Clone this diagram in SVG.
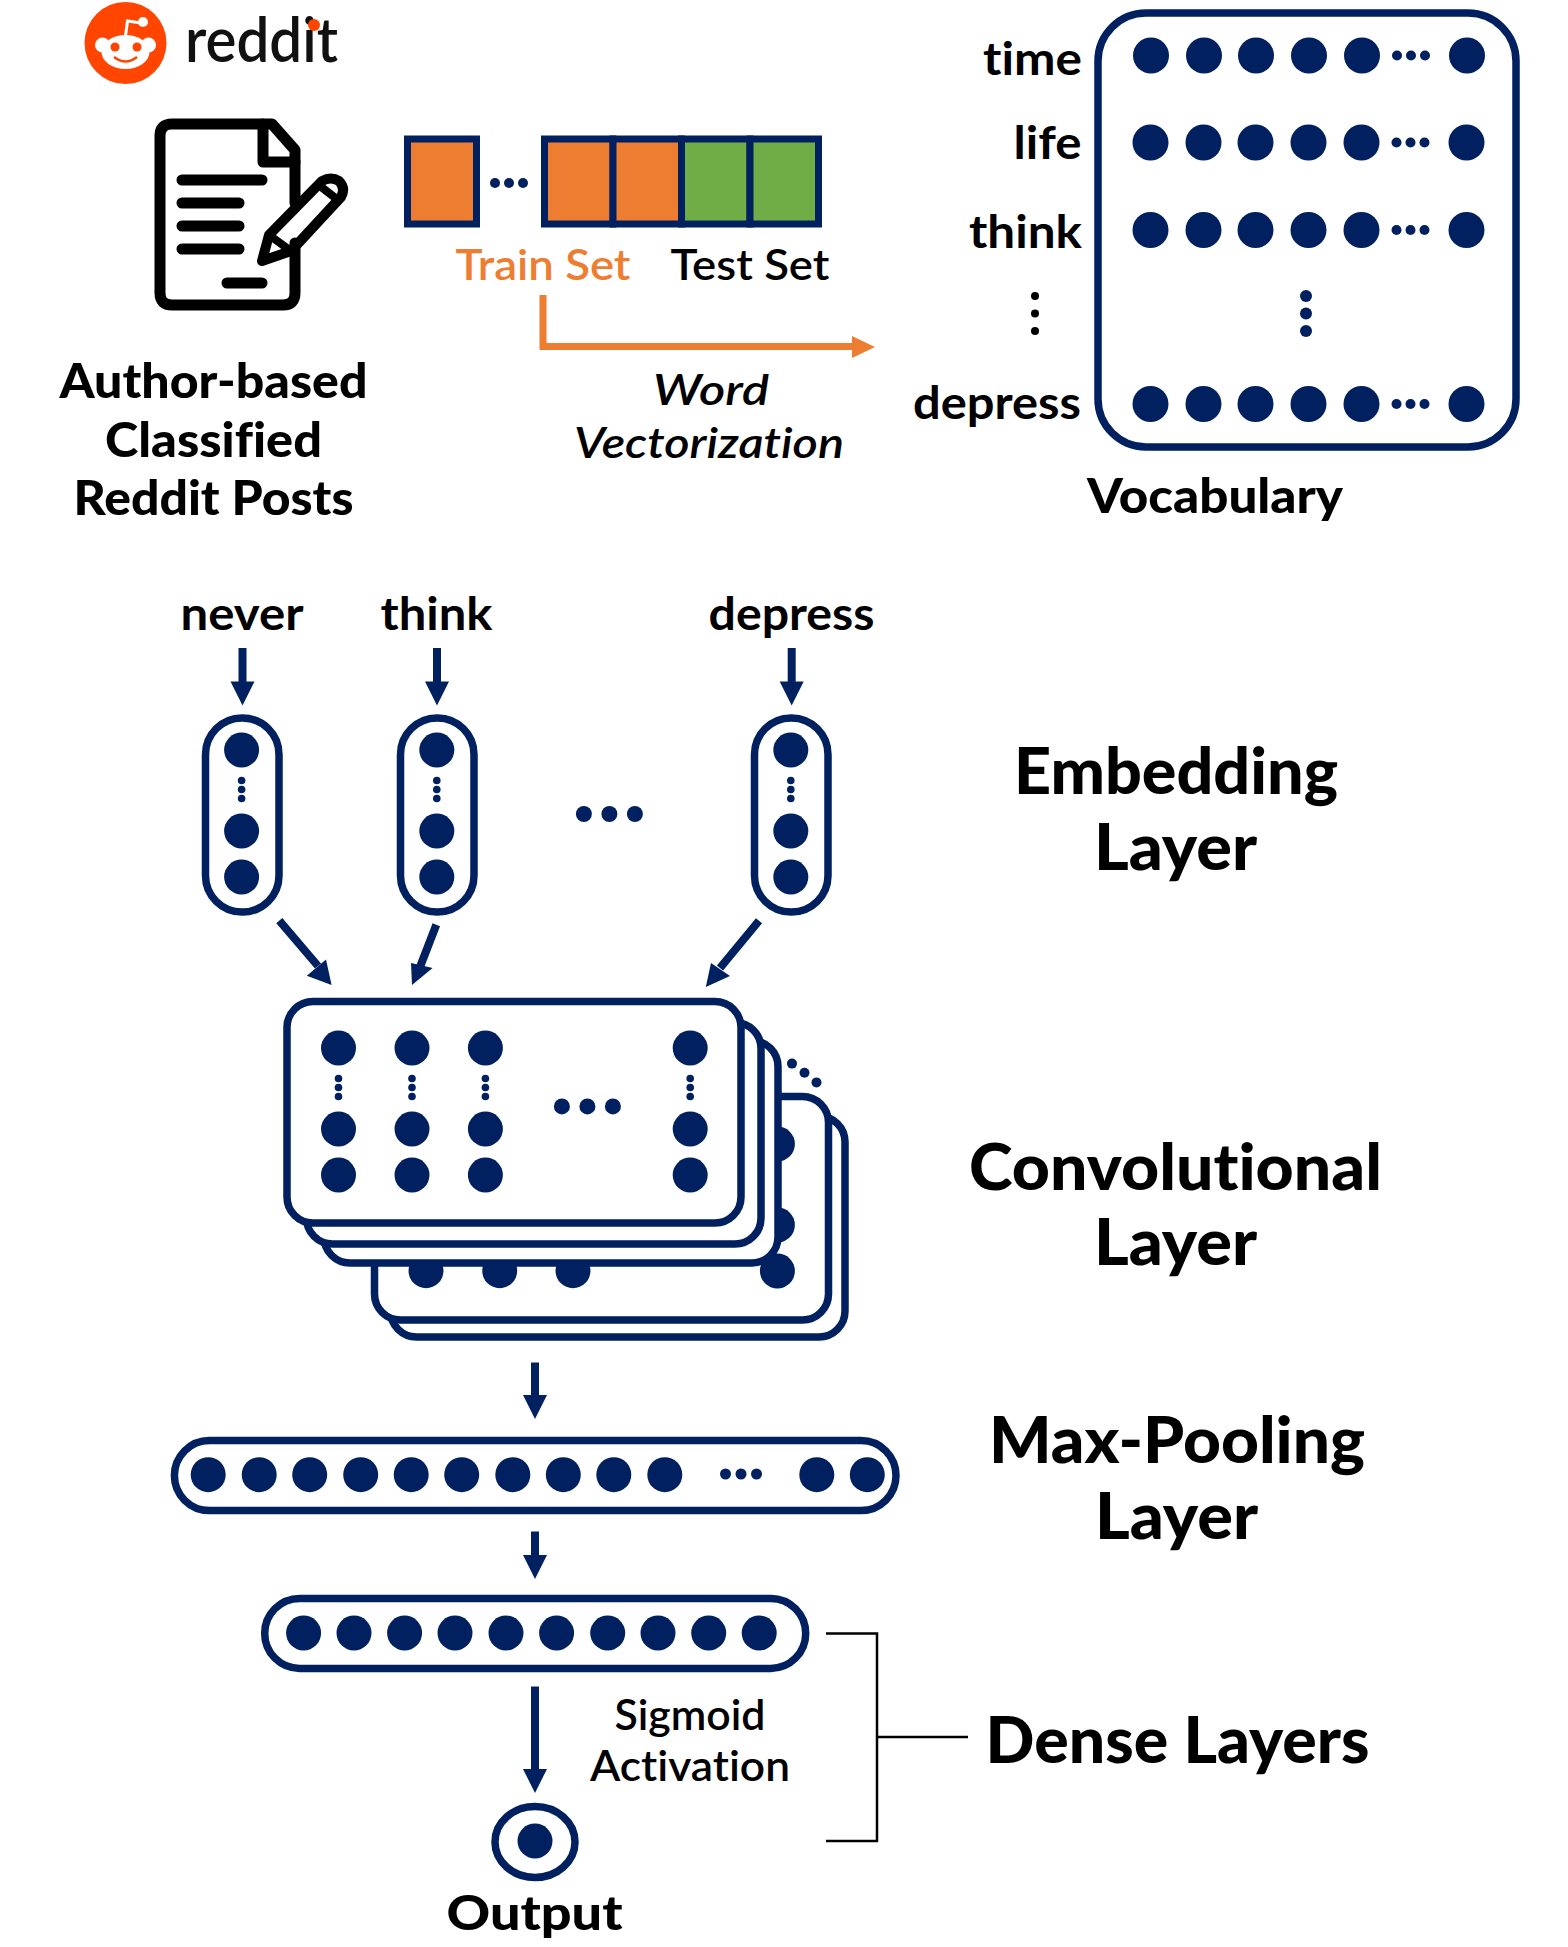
<svg xmlns="http://www.w3.org/2000/svg" width="1568" height="1947" viewBox="0 0 1568 1947">
<style>
text{font-family:Lato,"Liberation Sans",sans-serif;fill:#000;font-variant-ligatures:none}
.b{font-weight:900;text-anchor:middle;font-size:47px}
.t{font-weight:700;font-size:46px}
.m{text-anchor:middle}
.e{text-anchor:end}
.h{font-weight:900;text-anchor:middle;font-size:64px}
.s{font-weight:600;text-anchor:middle;font-size:43px}
.i{font-style:italic;font-weight:600;text-anchor:middle;font-size:43px}
.n{fill:#002060}
.box{fill:#fff;stroke:#002060;stroke-width:7.5}
.cell{stroke:#002060;stroke-width:7}
.k{fill:none;stroke:#000;stroke-linecap:round;stroke-linejoin:round}
.ln{stroke:#002060;stroke-width:8;fill:none}
</style>
<defs>
<g id="ell"><circle cx="-14" r="5"/><circle r="5"/><circle cx="14" r="5"/></g>
<g id="vell"><circle cy="-9" r="3.800"/><circle r="3.800"/><circle cy="9" r="3.800"/></g>
<g id="col"><circle cy="0" r="17.500"/><circle cy="81" r="17.500"/><circle cy="127" r="17.500"/><use href="#vell" y="39.500"/></g>
<g id="midell"><circle cx="-25.500" r="8"/><circle r="8"/><circle cx="25.500" r="8"/></g>
<g id="row"><circle cx="1151" r="18"/><circle cx="1204" r="18"/><circle cx="1256" r="18"/><circle cx="1309" r="18"/><circle cx="1362" r="18"/><use href="#ell" x="1411"/><circle cx="1467" r="18"/></g>
<polygon id="hd" points="0,0 -12,-24 12,-24"/>
</defs>
<g id="reddit-logo">
<circle cx="125.500" cy="43" r="41" fill="#ff4500"/>
<path d="M125.500 36 L127.500 21 L141 23" fill="none" stroke="#fff" stroke-width="3"/>
<circle cx="143" cy="22" r="5" fill="#fff"/>
<circle cx="102.500" cy="45" r="7.500" fill="#fff"/><circle cx="148.500" cy="45" r="7.500" fill="#fff"/>
<ellipse cx="125.500" cy="52" rx="24" ry="17" fill="#fff"/>
<circle cx="115" cy="47" r="4.500" fill="#ff4500"/><circle cx="137" cy="47" r="4.500" fill="#ff4500"/>
<path d="M114 57 Q125.500 66 137 57" fill="none" stroke="#ff4500" stroke-width="2.500"/>
<text x="185" y="62" font-size="61" textLength="153" lengthAdjust="spacingAndGlyphs" style="font-weight:600;fill:#111">reddit</text>
<circle cx="314" cy="25" r="6" fill="#ff4500"/>
</g>
<g id="document-icon">
<path class="k" stroke-width="11" d="M295 203V150L272 124H172Q160 124 160 136V293Q160 305 172 305H283Q295 305 295 293V243"/>
<path class="k" stroke-width="11" d="M263 124V162H295"/>
<path class="k" stroke-width="11" d="M182 180H262M182 203H239M182 226H239M182 249H239M227 283H262"/>
<path class="k" fill="#fff" stroke-width="10" d="M262 261L269 235L322 181Q331 176 339 181Q346 188 341 197L291 251Z"/>
<path class="k" stroke-width="8" d="M269 235L291 251M320 186L338 200"/>
</g>
<g id="data-blocks">
<rect class="cell" x="407.500" y="139" width="69" height="85" fill="#ed7d31"/>
<use href="#ell" x="509" y="183" class="n"/>
<rect class="cell" x="544.500" y="139" width="68.500" height="85" fill="#ed7d31"/>
<rect class="cell" x="613" y="139" width="68.500" height="85" fill="#ed7d31"/>
<rect class="cell" x="681.500" y="139" width="68.500" height="85" fill="#70ad47"/>
<rect class="cell" x="750" y="139" width="68.500" height="85" fill="#70ad47"/>
<text x="543" y="280" class="s" textLength="175" lengthAdjust="spacingAndGlyphs" style="fill:#ed7d31">Train Set</text>
<text x="750" y="280" class="s" textLength="159" lengthAdjust="spacingAndGlyphs">Test Set</text>
</g>
<g id="author-label">
<text x="213.500" y="398" class="b" textLength="308" lengthAdjust="spacingAndGlyphs">Author-based</text>
<text x="213.500" y="457" class="b" textLength="217" lengthAdjust="spacingAndGlyphs">Classified</text>
<text x="213.500" y="515" class="b" textLength="280" lengthAdjust="spacingAndGlyphs">Reddit Posts</text>
</g>
<g id="word-vectorization">
<text x="711" y="405" class="i" textLength="116" lengthAdjust="spacingAndGlyphs">Word</text>
<text x="709" y="458" class="i" textLength="270" lengthAdjust="spacingAndGlyphs">Vectorization</text>
</g>
<g id="vocabulary">
<rect class="box" x="1098" y="13" width="418" height="434" rx="48"/>
<g class="n"><use href="#row" y="55.500"/><use href="#row" x="-0.500" y="142.500"/><use href="#row" x="-0.500" y="230"/><use href="#row" x="-0.500" y="404"/>
<circle cx="1306" cy="296" r="6"/><circle cx="1306" cy="313.500" r="6"/><circle cx="1306" cy="331" r="6"/></g>
<circle cx="1035" cy="296" r="4"/><circle cx="1035" cy="313.500" r="4"/><circle cx="1035" cy="331" r="4"/>
<text x="1082" y="75" class="t e" textLength="99" lengthAdjust="spacingAndGlyphs">time</text>
<text x="1081.500" y="158.500" class="t e" textLength="68" lengthAdjust="spacingAndGlyphs">life</text>
<text x="1082" y="247.500" class="t e" textLength="113" lengthAdjust="spacingAndGlyphs">think</text>
<text x="1081" y="419" class="t e" textLength="168" lengthAdjust="spacingAndGlyphs">depress</text>
<text x="1215" y="513" class="b" textLength="256" lengthAdjust="spacingAndGlyphs">Vocabulary</text>
</g>
<g id="embedding">
<text x="242" y="630" class="t m" textLength="123" lengthAdjust="spacingAndGlyphs">never</text>
<text x="436.500" y="630" class="t m" textLength="112" lengthAdjust="spacingAndGlyphs">think</text>
<text x="791.500" y="630" class="t m" textLength="166" lengthAdjust="spacingAndGlyphs">depress</text>
<rect class="box" x="205.500" y="718" width="73.500" height="194" rx="36.500"/>
<rect class="box" x="400.500" y="718" width="73.500" height="194" rx="36.500"/>
<rect class="box" x="754.500" y="718" width="73.500" height="194" rx="36.500"/>
<g class="n"><use href="#col" x="241.600" y="750"/><use href="#col" x="436.800" y="750"/><use href="#col" x="790.800" y="750"/><use href="#midell" x="609.400" y="814"/></g>
</g>
<g id="convolutional">
<rect class="box" x="390.500" y="1116" width="454.500" height="221" rx="26"/>
<rect class="box" x="374.500" y="1096.500" width="454" height="223.500" rx="26"/>
<g class="n"><circle cx="426" cy="1270.700" r="17.500"/><circle cx="499.700" cy="1270.700" r="17.500"/><circle cx="573" cy="1270.700" r="17.500"/><use href="#col" x="777.400" y="1144"/></g>
<rect class="box" x="324" y="1040.500" width="454" height="222.500" rx="26"/>
<rect class="box" x="306.500" y="1022.500" width="454.500" height="221.500" rx="26"/>
<rect class="box" x="287" y="1001.500" width="454" height="221.500" rx="26"/>
<g class="n"><use href="#col" x="338.500" y="1048"/><use href="#col" x="412" y="1048"/><use href="#col" x="485.400" y="1048"/><use href="#col" x="690.200" y="1048"/><use href="#midell" x="587.400" y="1106.400"/>
<circle cx="792" cy="1063.600" r="5"/><circle cx="804.500" cy="1072.800" r="5"/><circle cx="816.500" cy="1082.400" r="5"/></g>
</g>
<g id="max-pooling">
<rect class="box" x="174.400" y="1440.600" width="721.600" height="70" rx="35"/>
<g class="n"><circle cx="208.200" cy="1474.700" r="17.500"/><circle cx="259.200" cy="1474.700" r="17.500"/><circle cx="309.700" cy="1474.700" r="17.500"/><circle cx="360.700" cy="1474.700" r="17.500"/><circle cx="411.200" cy="1474.700" r="17.500"/><circle cx="461.700" cy="1474.700" r="17.500"/><circle cx="512.800" cy="1474.700" r="17.500"/><circle cx="563.300" cy="1474.700" r="17.500"/><circle cx="613.800" cy="1474.700" r="17.500"/><circle cx="664.800" cy="1474.700" r="17.500"/><circle cx="816.800" cy="1474.700" r="17.500"/><circle cx="867.300" cy="1474.700" r="17.500"/><circle cx="725.500" cy="1474" r="5.500"/><circle cx="741" cy="1474" r="5.500"/><circle cx="756.500" cy="1474" r="5.500"/></g>
</g>
<g id="dense">
<rect class="box" x="264.700" y="1598.400" width="541" height="70" rx="35"/>
<g class="n"><circle cx="303.600" cy="1633" r="17.500"/><circle cx="354" cy="1633" r="17.500"/><circle cx="404.600" cy="1633" r="17.500"/><circle cx="455" cy="1633" r="17.500"/><circle cx="506" cy="1633" r="17.500"/><circle cx="556.600" cy="1633" r="17.500"/><circle cx="607.700" cy="1633" r="17.500"/><circle cx="658" cy="1633" r="17.500"/><circle cx="708.700" cy="1633" r="17.500"/><circle cx="759.200" cy="1633" r="17.500"/></g>
<text x="690" y="1729.500" class="s" textLength="151" lengthAdjust="spacingAndGlyphs">Sigmoid</text>
<text x="690" y="1780.500" class="s" textLength="200" lengthAdjust="spacingAndGlyphs">Activation</text>
</g>
<g id="output">
<ellipse class="box" cx="535" cy="1842" rx="40" ry="35.500"/>
<circle class="n" cx="535" cy="1841" r="17.500"/>
<text x="534.500" y="1930" class="b" textLength="176" lengthAdjust="spacingAndGlyphs">Output</text>
</g>
<g id="connectors">
<path d="M543 295V346.500H856" fill="none" stroke="#ed7d31" stroke-width="7"/>
<polygon points="875,347 852,336 852,358" fill="#ed7d31"/>
<path class="ln" d="M242.500 648V685M437 648V685M791.700 648V685M535 1362.500V1400M535 1531.600V1558M535 1686.500V1775"/>
<g class="n"><use href="#hd" x="242.500" y="705.400"/><use href="#hd" x="437" y="705.400"/><use href="#hd" x="791.700" y="705.400"/><use href="#hd" x="535" y="1419"/><use href="#hd" x="535" y="1578.900"/><use href="#hd" x="535" y="1793"/></g>
<path class="ln" d="M279.300 920.700L318 966M436.300 924.800L420 967M759 920.700L720 968"/>
<polygon class="n" points="331.600,985 306.800,975.800 326,959.500"/>
<polygon class="n" points="412,985 411,963 432.600,968"/>
<polygon class="n" points="705.800,987 711,963 730,976"/>
<path d="M826 1633.500H877V1841H826M877 1737H968" fill="none" stroke="#000" stroke-width="2.500"/>
</g>
<g id="layer-labels">
<text x="1176" y="794" class="h" textLength="324" lengthAdjust="spacingAndGlyphs">Embedding</text>
<text x="1175.500" y="870" class="h" textLength="163" lengthAdjust="spacingAndGlyphs">Layer</text>
<text x="1175.500" y="1190" class="h" textLength="413" lengthAdjust="spacingAndGlyphs">Convolutional</text>
<text x="1175.500" y="1265" class="h" textLength="163" lengthAdjust="spacingAndGlyphs">Layer</text>
<text x="1177" y="1463" class="h" textLength="376" lengthAdjust="spacingAndGlyphs">Max-Pooling</text>
<text x="1176.500" y="1539" class="h" textLength="163" lengthAdjust="spacingAndGlyphs">Layer</text>
<text x="1177.500" y="1763" class="h" textLength="384" lengthAdjust="spacingAndGlyphs">Dense Layers</text>
</g>
</svg>
